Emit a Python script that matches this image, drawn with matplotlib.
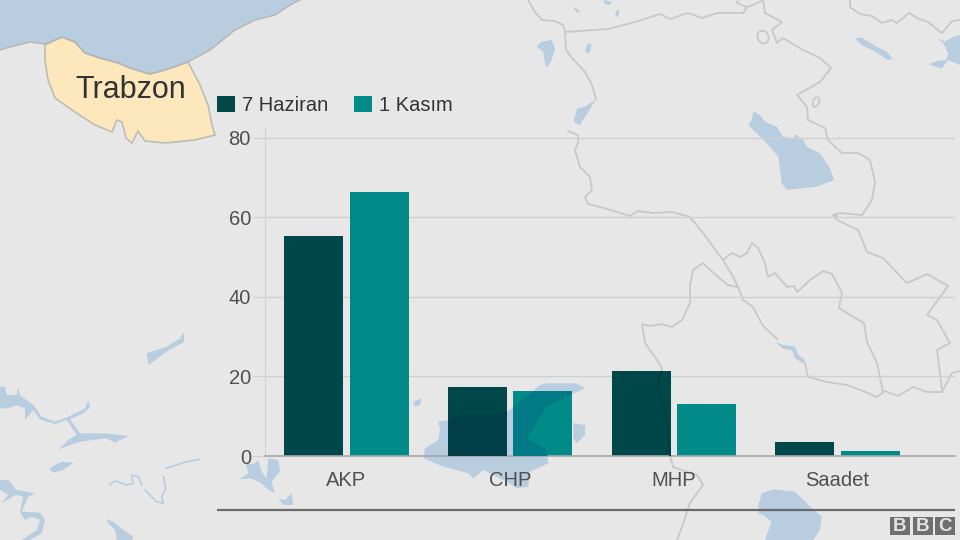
import matplotlib
matplotlib.use('Agg')
import numpy as np
import matplotlib.pyplot as plt
from matplotlib.colors import to_rgb
from matplotlib.patches import Polygon, Rectangle, Ellipse

plt.rcParams['font.family'] = ['Liberation Sans', 'DejaVu Sans']

categories = ['AKP', 'CHP', 'MHP', 'Saadet']
haziran = [55.3, 17.3, 21.3, 3.4]
kasim = [66.3, 16.3, 13.1, 1.2]
y_ticks = [0, 20, 40, 60, 80]

BG = '#e7e7e7'
WATER = '#b9cde0'
BORDER = '#c8c8c8'
DARK = '#00474a'
TEAL = '#008a88'
TEXT = '#505050'


def crop(pts, x0, y0):
    # koordinatlar 3x kirpilmis
    return [(x0 + x / 3, y0 + y / 3) for x, y in pts]


def multiply(top, under):
    # cubuklar haritanin uzerine carpma modu ile biniyor
    return tuple(a * b / c for a, b, c in zip(to_rgb(top), to_rgb(under), to_rgb(BG)))


# harita parcalari (piksel)
sea = [(0, 50), (10, 47), (30, 42), (45, 44), (62, 37), (75, 42), (85, 53), (100, 58), (118, 63),
       (130, 68), (150, 74), (165, 70), (188, 62), (210, 50), (225, 38), (235, 30), (255, 20),
       (275, 15), (290, 5), (300, 0), (0, 0)]
trabzon = [(45, 45), (62, 37), (75, 42), (85, 53), (100, 58), (118, 63), (130, 68), (150, 74),
           (165, 70), (188, 62), (200, 85), (208, 105), (212, 125), (215, 135), (195, 140),
           (165, 143), (145, 141), (138, 131), (132, 143), (126, 138), (122, 122), (117, 120),
           (112, 132), (95, 125), (75, 112), (55, 98), (48, 80), (45, 60)]
lakes = [
    crop([(700, 335), (720, 345), (735, 365), (770, 380), (790, 410), (820, 415), (825, 403),
          (850, 420), (860, 440), (900, 460), (930, 505), (942, 540), (890, 560), (800, 570),
          (785, 550), (775, 470), (745, 435), (700, 390), (685, 375), (695, 360)], 520, 0),
    crop([(110, 140), (125, 125), (155, 120), (165, 145), (155, 180), (140, 205), (135, 190), (130, 155)], 500, 0),
    crop([(265, 130), (275, 135), (270, 155), (260, 162), (255, 150)], 500, 0),
    crop([(288, 298), (265, 335), (240, 375), (220, 365), (232, 325), (255, 320)], 500, 0),
    crop([(220, 22), (235, 28), (240, 40), (228, 35)], 500, 0),
    crop([(310, 0), (335, 5), (330, 15), (315, 12)], 500, 0),
    crop([(350, 30), (358, 30), (355, 52), (345, 45)], 500, 0),
    crop([(105, 115), (125, 112), (160, 135), (200, 155), (217, 175), (205, 180), (165, 155), (125, 135)], 820, 0),
    crop([(355, 115), (375, 125), (400, 110), (420, 105), (420, 195), (385, 180), (365, 205), (345, 200),
          (328, 193), (350, 183), (378, 180), (385, 160), (370, 130)], 820, 0),
    crop([(405, 425), (430, 435), (465, 440), (475, 465), (495, 480), (490, 490), (465, 475), (455, 450), (430, 447)], 640, 200),
    crop([(582, 45), (595, 45), (595, 58), (585, 58)], 640, 200),
    crop([(440, 100), (500, 80), (540, 55), (550, 35), (553, 65), (500, 95), (445, 135)], 0, 320),
    crop([(0, 200), (15, 200), (20, 225), (50, 225), (55, 200), (60, 225), (100, 255), (125, 290), (165, 305),
          (205, 290), (255, 265), (265, 240), (270, 262), (250, 280), (210, 298), (240, 340), (320, 340),
          (385, 348), (345, 368), (320, 355), (240, 365), (175, 388), (205, 360), (230, 345), (200, 300),
          (165, 312), (120, 298), (100, 270), (75, 300), (75, 265), (50, 255), (25, 265), (0, 265)], 0, 320),
    crop([(148, 445), (185, 425), (220, 428), (190, 450), (160, 458)], 0, 320),
    crop([(0, 480), (25, 480), (50, 510), (105, 520), (85, 530), (65, 575), (120, 578), (135, 600), (125, 640),
          (90, 660), (65, 660), (110, 630), (120, 600), (95, 590), (75, 600), (60, 575), (70, 530), (45, 525),
          (5, 550), (25, 525), (0, 510)], 0, 320),
    crop([(320, 598), (340, 605), (370, 630), (400, 650), (395, 660), (350, 660), (345, 630), (325, 610)], 0, 320),
    crop([(115, 185), (150, 180), (170, 165), (300, 165), (330, 150), (420, 75), (440, 70), (530, 70), (555, 85),
          (520, 100), (440, 140), (380, 235), (440, 270), (445, 310), (390, 335), (385, 380), (350, 385),
          (320, 365), (250, 330), (220, 355), (205, 340), (130, 320), (70, 295), (75, 265), (115, 240), (120, 210)], 400, 360),
    crop([(520, 190), (555, 195), (555, 225), (530, 250), (520, 235)], 400, 360),
    crop([(40, 125), (65, 115), (60, 135), (45, 140)], 400, 360),
    crop([(365, 280), (400, 268), (465, 275), (500, 310), (545, 350), (540, 390), (520, 420), (375, 420),
          (395, 365), (370, 345), (355, 340), (355, 318)], 640, 400),
    crop([(62, 55), (85, 58), (100, 45), (110, 80), (125, 100), (130, 40), (160, 45), (165, 80), (140, 110),
          (150, 145), (125, 130), (105, 112), (75, 100), (42, 103), (70, 85)], 225, 445),
    crop([(160, 160), (180, 165), (200, 145), (205, 180), (175, 180)], 225, 445),
]
thin_rivers = [
    crop([(328, 495), (345, 482), (380, 495), (400, 490), (395, 465), (415, 470), (425, 495)], 0, 320),
    crop([(435, 510), (470, 545), (490, 550), (485, 530), (497, 505), (490, 470)], 0, 320),
    crop([(498, 445), (560, 425), (598, 418)], 0, 320),
]
borders = [
    [(528, 0), (535, 12), (542, 20), (555, 21), (563, 25), (565, 32), (566, 50), (572, 58), (585, 72),
     (592, 85), (596, 99)],
    [(568, 131), (578, 135), (578, 143), (575, 150), (580, 167), (590, 177), (592, 190), (585, 197), (588, 204),
     (600, 207), (617, 212), (630, 216), (638, 211), (653, 213), (672, 212), (690, 217), (703, 233), (723, 260),
     (732, 275), (738, 287), (743, 300), (753, 307), (763, 326), (777, 339)],
    [(805, 363), (808, 377), (827, 382), (847, 385), (863, 391), (877, 397), (885, 391), (898, 396), (913, 387),
     (927, 392), (942, 392), (952, 373), (960, 371)],
    [(723, 260), (732, 253), (740, 257), (747, 253), (752, 243), (758, 248), (765, 263), (768, 277), (775, 273),
     (787, 287), (794, 286), (797, 292), (810, 280), (823, 271), (832, 274), (842, 293), (839, 308), (850, 315),
     (864, 323), (867, 342), (877, 363), (883, 392)],
    [(738, 287), (728, 285), (718, 277), (703, 263), (693, 270), (690, 285), (690, 303), (682, 320), (672, 327),
     (662, 324), (650, 326), (642, 324), (645, 343), (657, 360), (662, 368), (657, 387), (665, 407), (670, 455),
     (673, 467), (697, 475), (703, 485), (690, 503), (682, 527), (677, 540)],
    [(763, 0), (765, 13), (782, 22), (772, 30), (777, 43), (783, 38), (803, 50), (820, 58), (831, 68), (820, 82),
     (797, 95), (807, 107), (808, 120), (825, 128), (828, 140), (842, 153), (858, 153), (870, 160), (875, 182),
     (872, 200), (862, 215), (840, 213), (833, 215), (837, 220), (858, 230), (867, 252), (883, 258), (907, 283),
     (927, 274), (948, 286), (927, 315), (937, 320), (950, 343), (937, 350), (942, 390)],
    [(565, 32), (608, 29), (635, 22), (660, 14), (670, 19), (688, 13), (702, 18), (717, 13), (743, 13), (747, 7),
     (737, 3), (738, 0)],
    [(747, 7), (753, 5), (763, 0)],
    [(850, 0), (850, 7), (860, 14), (872, 16), (882, 23), (892, 20), (897, 23), (909, 13), (917, 18), (928, 22),
     (942, 33), (952, 21), (960, 20)],
]

fig = plt.figure(figsize=(9.6, 5.4), dpi=100, facecolor=BG)

################################################################
# harita
################################################################
bg = fig.add_axes([0, 0, 1, 1], zorder=0)
bg.set_xlim(0, 960)
bg.set_ylim(540, 0)
bg.axis('off')

bg.add_patch(Polygon(sea, closed=True, fc=WATER, ec='none'))
for lake in lakes:
    bg.add_patch(Polygon(lake, closed=True, fc=WATER, ec='none'))
for river in thin_rivers:
    bg.plot(*zip(*river), color=WATER, lw=1.2)
for line in borders:
    bg.plot(*zip(*line), color=BORDER, lw=1.3, solid_joinstyle='round')
bg.add_patch(Ellipse((763, 37), 11, 13, angle=-25, fc='none', ec=BORDER, lw=1.3))
bg.add_patch(Ellipse((816, 102), 6, 10, angle=20, fc='none', ec=BORDER, lw=1.3))
bg.plot(*zip(*sea[:-1]), color='#b4b4b4', lw=1.0)
bg.add_patch(Polygon(trabzon, closed=True, fc='#fde8bd', ec='#bdbdb5', lw=1.2))
bg.text(130.5, 90, 'Trabzon', fontsize=22, color='#333333', ha='center', va='center')

################################################################
# grafik
################################################################
ax = fig.add_axes([265 / 960, 84 / 540, 690 / 960, 328 / 540], zorder=1)
ax.patch.set_alpha(0)
x_pos = np.arange(len(categories))
b1 = ax.bar(x_pos - 0.2, haziran, width=0.36, color=DARK, label='7 Haziran', zorder=3)
b2 = ax.bar(x_pos + 0.2, kasim, width=0.36, color=TEAL, label='1 Kasım', zorder=3)

ax.set_xlim(-0.497, 3.717)
ax.set_ylim(0, 82.5)
ax.set_yticks(y_ticks)
ax.set_xticks(x_pos)
ax.set_xticklabels(categories)
ax.grid(True, axis='y', color='#d0d0d0', lw=1.0, zorder=1)
ax.set_axisbelow(True)
ax.tick_params(axis='y', length=8.6, width=0.8, color='#d0d0d0', labelcolor=TEXT, labelsize=14.5, pad=1.5)
ax.tick_params(axis='x', length=0, labelcolor=TEXT, labelsize=14.5, pad=10.8)
for side in ['top', 'right']:
    ax.spines[side].set_visible(False)
ax.spines['left'].set_color('#d0d0d0')
ax.spines['left'].set_linewidth(0.8)
ax.spines['bottom'].set_color('#a8a8a8')
ax.spines['bottom'].set_linewidth(1.2)
ax.spines['bottom'].set_zorder(4)

leg = fig.legend(handles=[b1, b2], loc='lower left', bbox_to_anchor=(217 / 960, (540 - 115) / 540), ncol=2,
                 frameon=False, fontsize=14.5, handlelength=0.9, handleheight=0.9, handletextpad=0.35,
                 columnspacing=1.25, borderpad=0, borderaxespad=0, labelcolor='#333333')

################################################################
# cubuklarin altindan gorunen harita, alt cizgi ve logo
################################################################
fg = fig.add_axes([0, 0, 1, 1], zorder=2)
fg.set_xlim(0, 960)
fg.set_ylim(540, 0)
fg.axis('off')

for bars, col in [(b1, DARK), (b2, TEAL)]:
    for bar in bars:
        for lake in lakes:
            p = fg.add_patch(Polygon(lake, closed=True, fc=multiply(col, WATER), ec='none'))
            p.set_clip_path(bar)
        for line in borders:
            l, = fg.plot(*zip(*line), color=multiply(col, BORDER), lw=1.3)
            l.set_clip_path(bar)

fg.plot([217, 955], [510, 510], color='#6a6a6a', lw=1.6, solid_capstyle='butt')
for left, letter in zip([890, 912.5, 935], 'BBC'):
    fg.add_patch(Rectangle((left, 517), 20, 18, fc='#6f6f6f', ec='none'))
    fg.text(left + 10, 526.3, letter, fontsize=13.5, fontweight='bold', color='#e4e4e4', ha='center', va='center')

fig.savefig('out.png', dpi=100, facecolor=BG)
